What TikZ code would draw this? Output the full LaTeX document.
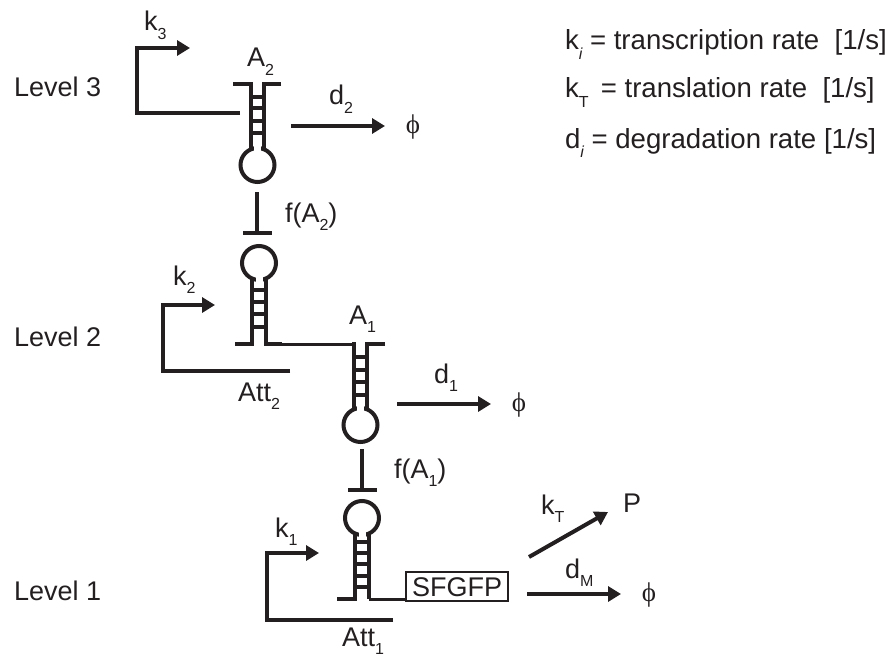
\documentclass[tikz,border=0pt]{standalone}
\usepackage{fontspec}
\setmainfont{Liberation Sans}
\newfontfamily\phifont{Liberation Serif}
\usetikzlibrary{arrows.meta}
\definecolor{ink}{HTML}{231F20}
\newcommand{\lsub}[1]{\raisebox{-0.33em}{\fontsize{16}{16}\selectfont #1}}
\newcommand{\isub}[1]{\raisebox{-0.33em}{\fontsize{16}{16}\selectfont\itshape #1}}
\newcommand{\phisym}{{\phifont\fontsize{27}{27}\selectfont ϕ}}
\tikzset{
  x=1pt,y=-1pt,
  every node/.style={inner sep=0pt,outer sep=0pt,text=ink,font=\fontsize{27}{30}\selectfont,anchor=base west},
  legendtext/.style={font=\fontsize{27.6}{30}\selectfont},
  phisign/.style={anchor=base},
  stemline/.style={draw=ink,line width=4pt,line join=miter},
  linkwire/.style={draw=ink,line width=3pt},
  rung/.style={draw=ink,line width=3.6pt},
  flow/.style={draw=ink,line width=4pt,-{Triangle[length=13pt,width=15pt]}},
  promoter/.style={draw=ink,line width=4pt,-{Triangle[length=13pt,width=15pt]},line join=miter},
  inhibit/.style={draw=ink,line width=4pt,-{Bar[width=29pt,line width=4pt,length=0pt]}},
  loop/.style={circle,draw=ink,line width=4pt,minimum size=34pt,anchor=center},
  neck/.style={draw=white,line width=6pt},
  genebox/.style={draw=ink,line width=1.3pt,minimum width=102pt,minimum height=29pt,anchor=center,fill=white},
}
\begin{document}
\begin{tikzpicture}
\useasboundingbox (0,0) rectangle (893,658);
% labels
\node (L3) at (14,96) {Level 3};
\node (L2) at (14,346) {Level 2};
\node (L1) at (14,600) {Level 1};
\node[legendtext] (ki) at (565,50) {k\isub{i} = transcription rate \ [1/s]};
\node[legendtext] (kt) at (565,98) {k\lsub{T} \,= translation rate \ [1/s]};
\node[legendtext] (di) at (565,148) {d\isub{i} = degradation rate [1/s]};

% Level 3 hairpin
\coordinate (h3tl) at (251,84); \coordinate (h3tr) at (264,84);
\node[loop] (lp3) at (257.5,165) {};
\draw[neck] (254,148) -- (261,148);
\draw[stemline] (233,84) -- (h3tl) -- (251,150);
\draw[stemline] (281,84) -- (h3tr) -- (264,150);
\foreach \yy in {97,108,121,133} \draw[rung] (251,\yy) -- (264,\yy);
\coordinate (p3end) at (240,113); \coordinate (p3c) at (137,113); \coordinate (p3t) at (137,48); \coordinate (p3h) at (190,48);
\draw[promoter] (p3end) -- (p3c) -- (p3t) -- (p3h);
\node (k3) at (144,31) {k\lsub{3}};
\node (A2) at (247,67) {A\lsub{2}};
\coordinate (d2s) at (291,126); \coordinate (d2e) at (385,126);
\node[phisign] (phi3) at (413,133) {\phisym};
\draw[flow] (d2s) -- (d2e);
\node (d2) at (329,105) {d\lsub{2}};

% repression A2
\coordinate (r2s) at (257,192); \coordinate (r2e) at (257,235);
\draw[inhibit] (r2s) -- (r2e);
\node (fA2) at (285,222) {f(A\lsub{2})};

% Level 2 hairpin (inverted)
\node[loop] (lp2) at (259,263) {};
\draw[neck] (255.5,280) -- (262.5,280);
\coordinate (h2bl) at (252,344); \coordinate (h2br) at (266,344);
\draw[stemline] (252,278) -- (h2bl) -- (235,344);
\draw[stemline] (266,278) -- (h2br) -- (282,344);
\foreach \yy in {290,302,314,327} \draw[rung] (252,\yy) -- (266,\yy);
\coordinate (p2end) at (290,371); \coordinate (p2c) at (163,371); \coordinate (p2t) at (163,305); \coordinate (p2h) at (215,305);
\draw[promoter] (p2end) -- (p2c) -- (p2t) -- (p2h);
\node (k2) at (173,285) {k\lsub{2}};
\node (Att2) at (238,401) {Att\lsub{2}};

% A1 hairpin
\coordinate (h1tl) at (354,344); \coordinate (h1tr) at (367,344);
\node[loop] (lp1) at (360.5,425) {};
\draw[neck] (357,408) -- (364,408);
\draw[linkwire] (h2br) -- (h1tl);
\draw[stemline] (352,344) -- (h1tl) -- (354,410);
\draw[stemline] (385,344) -- (h1tr) -- (367,410);
\foreach \yy in {357,370,382,395} \draw[rung] (354,\yy) -- (367,\yy);
\node (A1) at (349,324) {A\lsub{1}};
\coordinate (d1s) at (397,404); \coordinate (d1e) at (491,404);
\node[phisign] (phi2) at (519,411) {\phisym};
\draw[flow] (d1s) -- (d1e);
\node (d1) at (434,383) {d\lsub{1}};

% repression A1
\coordinate (r1s) at (362,449); \coordinate (r1e) at (362,492);
\draw[inhibit] (r1s) -- (r1e);
\node (fA1) at (394,478) {f(A\lsub{1})};

% Level 1 hairpin
\node[loop] (lp0) at (362,518) {};
\draw[neck] (358.5,535) -- (365.5,535);
\coordinate (h0bl) at (355,599); \coordinate (h0br) at (369,599);
\node[genebox] (gfp) at (457,586.5) {};
\node[anchor=base] (gfptext) at (457,596) {SFGFP};
\draw[stemline] (355,533) -- (h0bl) -- (337,599);
\draw[stemline] (369,533) -- (h0br);
\draw[linkwire] (h0br) -- (gfp.west |- h0br);
\foreach \yy in {542,553,564,576,587} \draw[rung] (355,\yy) -- (369,\yy);
\coordinate (p1end) at (393,620); \coordinate (p1c) at (267,620); \coordinate (p1t) at (267,553); \coordinate (p1h) at (319,553);
\draw[promoter] (p1end) -- (p1c) -- (p1t) -- (p1h);
\node (k1) at (275,537) {k\lsub{1}};
\node (Att1) at (342,646) {Att\lsub{1}};

% outputs
\coordinate (kts) at (529,557); \coordinate (kte) at (608,512);
\draw[flow] (kts) -- (kte);
\node (kT) at (541,514) {k\lsub{T}};
\node (P) at (623,512) {P};
\coordinate (dms) at (527,594); \coordinate (dme) at (621,594);
\node[phisign] (phi1) at (649,601) {\phisym};
\draw[flow] (dms) -- (dme);
\node (dM) at (565,578) {d\lsub{M}};
\end{tikzpicture}
\end{document}
